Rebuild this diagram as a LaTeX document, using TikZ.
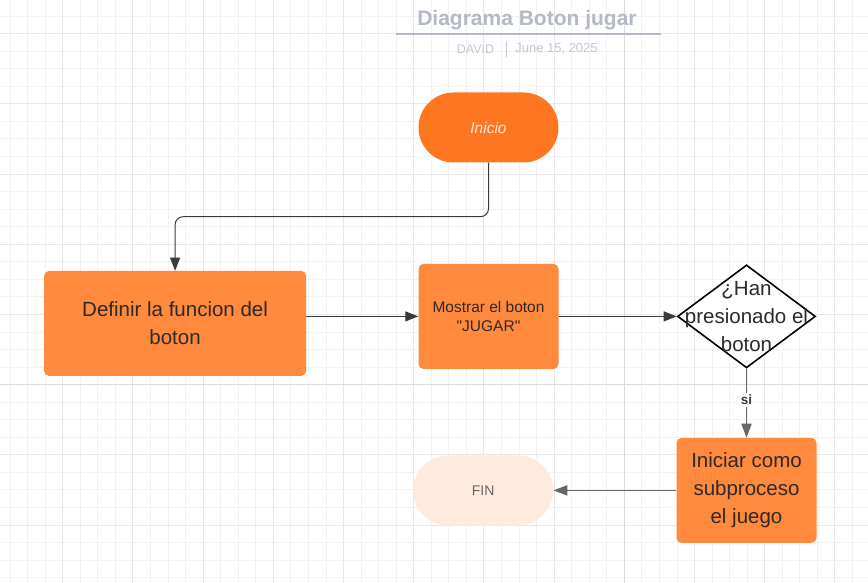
\documentclass[tikz,border=0pt]{standalone}
\usepackage{fontspec}
\setmainfont{Liberation Sans}[Ligatures=TeXOff]
\usetikzlibrary{shapes.geometric,arrows.meta,positioning}

\definecolor{startorange}{HTML}{FF7621}
\definecolor{boxorange}{HTML}{FF8A3D}
\definecolor{endpeach}{HTML}{FFEBDD}
\definecolor{titlegray}{HTML}{B3B9C5}
\definecolor{subgray}{HTML}{C3C8D0}
\definecolor{linedark}{HTML}{3A3A3A}
\definecolor{linegray}{HTML}{666666}
\definecolor{textdark}{HTML}{2E2A27}

\begin{document}
\begin{tikzpicture}[x=1pt, y=-1pt,
    gridminor/.style={draw=black!5, line width=0.8pt},
    gridmajor/.style={draw=black!9, line width=0.8pt},
    gridpage/.style={draw=black!14, line width=1pt},
    term/.style={rounded corners=35pt, minimum width=140pt, minimum height=70pt, inner sep=0pt},
    procbox/.style={fill=boxorange, rounded corners=5pt, minimum height=105pt, inner sep=0pt, align=center, text=textdark},
    bigtext/.style={font=\fontsize{20.5}{28}\selectfont},
    darkline/.style={draw=linedark, line width=1pt, -{Triangle[length=13pt,width=10pt]}},
    grayline/.style={draw=linegray, line width=1.8pt, -{Triangle[length=14pt,width=10pt]}}]

\useasboundingbox (0,0) rectangle (868,583);
\fill[white] (0,0) rectangle (868,583);

% background grid
\foreach \i in {0,...,48} \draw[gridminor] ({10+17.55*\i},0) -- ({10+17.55*\i},583);
\foreach \j in {-1,...,32} \draw[gridminor] (0,{16+17.55*\j}) -- (868,{16+17.55*\j});
\foreach \i in {3,7,...,47} \draw[gridmajor] ({10+17.55*\i},0) -- ({10+17.55*\i},583);
\foreach \j in {1,5,...,33} \draw[gridmajor] (0,{16+17.55*\j}) -- (868,{16+17.55*\j});
\draw[gridpage] ({10+17.55*35},0) -- ({10+17.55*35},583);
\draw[gridpage] (0,{16+17.55*21}) -- (868,{16+17.55*21});

% header
\node[text=titlegray, font=\fontsize{21}{24}\bfseries] (title) at (527,20) {Diagrama Boton jugar};
\draw[titlegray, line width=1.6pt] (396,34) -- (661,34);
\node[text=subgray, font=\fontsize{12.5}{14}\selectfont] (author) at (475.5,49) {DAVID};
\draw[subgray, line width=1pt] (506,41) -- (506,57);
\node[text=subgray, font=\fontsize{13}{14}\selectfont] (date) at (556.5,49) {June 15, 2025};

% flow
\node[term, fill=startorange, text=endpeach, font=\fontsize{15.5}{18}\itshape] (inicio) at (488.5,127.5) {Inicio};
\node[procbox, minimum width=140pt, font=\fontsize{15.5}{18.5}\selectfont, below=101pt of inicio] (mostrar) {Mostrar el boton\\"JUGAR"};
\node[procbox, minimum width=262pt, bigtext, left=112pt of mostrar, yshift=-7pt] (definir) {Definir la funcion del\\boton};
\node[diamond, draw=black, line width=1.6pt, fill=white, minimum width=138pt, minimum height=103pt, inner sep=0pt, right=118pt of mostrar] (pregunta) {};
\node[bigtext, align=center, text=textdark] (preguntatxt) at (pregunta.center) {¿Han\\presionado el\\boton};
\node[procbox, minimum width=140pt, bigtext, below=69pt of pregunta] (iniciar) {Iniciar como\\subproceso\\el juego};
\node[term, fill=endpeach, text=linegray, font=\fontsize{14}{16}\selectfont, left=123pt of iniciar] (fin) {FIN};

\draw[darkline, rounded corners=8pt] (inicio.south) -- ++(0,54) -| (definir.north);
\draw[darkline] (definir.east |- mostrar.west) -- (mostrar.west);
\draw[darkline] (mostrar.east) -- (pregunta.west);
\draw[grayline] (pregunta.south) -- node[fill=white, text=linedark, font=\fontsize{13.5}{15}\bfseries, inner sep=2pt, pos=0.45] (si) {si} (iniciar.north);
\draw[grayline] (iniciar.west) -- (fin.east);
\end{tikzpicture}
\end{document}
